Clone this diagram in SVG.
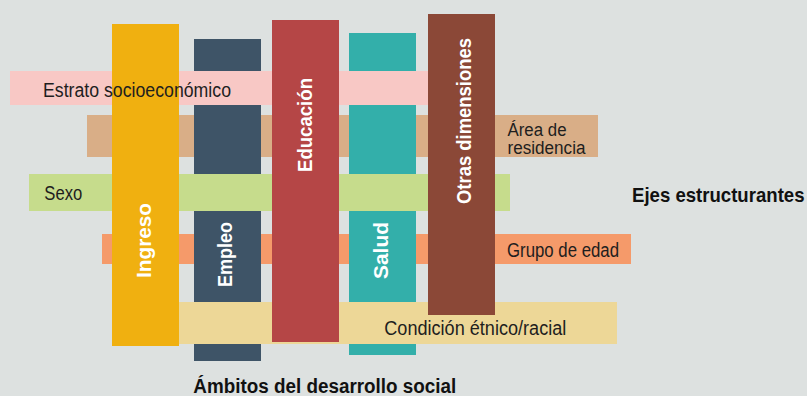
<svg xmlns="http://www.w3.org/2000/svg" width="807" height="396" viewBox="0 0 807 396">
<style>
.lbl{font-family:"Liberation Sans",Arial,sans-serif;font-size:20px;fill:#1e1e1e}
.sm{font-size:18px}
.vlbl{font-family:"Liberation Sans",Arial,sans-serif;font-size:20px;font-weight:bold;fill:#ffffff}
.ttl{font-family:"Liberation Sans",Arial,sans-serif;font-size:20px;font-weight:bold;fill:#111111}
</style>
<rect width="807" height="396" fill="#dde1e0"/>
<g id="connectors"/>
<!-- bottom horizontal bars -->
<g id="area"><rect x="87" y="115" width="511" height="42" fill="#d9ae87"/></g>
<g id="grupo"><rect x="102" y="234" width="529" height="30" fill="#f59a6a"/></g>
<!-- lower vertical bars -->
<g id="empleo"><rect x="194" y="39" width="67" height="322" fill="#3e5467"/></g>
<g id="salud"><rect x="349" y="33" width="67" height="322" fill="#33afaa"/></g>
<!-- upper horizontal bars -->
<g id="estrato"><rect x="10" y="71" width="418" height="34" fill="#f8c8c5"/></g>
<g id="sexo"><rect x="29" y="174" width="481" height="37" fill="#c6dc8c"/></g>
<g id="condicion"><rect x="150" y="302" width="467" height="42" fill="#edd797"/></g>
<!-- upper vertical bars -->
<g id="ingreso"><rect x="112" y="24" width="67" height="322" fill="#f0b010"/></g>
<g id="educacion"><rect x="272" y="20" width="67" height="322" fill="#b54646"/></g>
<g id="otras"><rect x="428" y="14" width="67" height="301" fill="#8b4837"/></g>
<!-- vertical labels -->
<g id="vertical-labels">
<text class="vlbl" transform="translate(151,278) rotate(-90)" textLength="75" lengthAdjust="spacingAndGlyphs">Ingreso</text>
<text class="vlbl" transform="translate(232,287) rotate(-90)" textLength="65" lengthAdjust="spacingAndGlyphs">Empleo</text>
<text class="vlbl" transform="translate(312,172) rotate(-90)" textLength="94" lengthAdjust="spacingAndGlyphs">Educación</text>
<text class="vlbl" transform="translate(388,279) rotate(-90)" textLength="57" lengthAdjust="spacingAndGlyphs">Salud</text>
<text class="vlbl" transform="translate(471,204) rotate(-90)" textLength="166" lengthAdjust="spacingAndGlyphs">Otras dimensiones</text>
</g>
<!-- horizontal labels -->
<g id="horizontal-labels">
<text class="lbl" x="43" y="97" textLength="188" lengthAdjust="spacingAndGlyphs">Estrato socioeconómico</text>
<text class="lbl sm" x="507.5" y="136" textLength="59" lengthAdjust="spacingAndGlyphs">Área de</text>
<text class="lbl sm" x="507.5" y="153.5" textLength="78" lengthAdjust="spacingAndGlyphs">residencia</text>
<text class="lbl" x="44.3" y="200.3" textLength="38" lengthAdjust="spacingAndGlyphs">Sexo</text>
<text class="lbl" x="507" y="256.7" textLength="112" lengthAdjust="spacingAndGlyphs">Grupo de edad</text>
<text class="lbl" x="384.3" y="335" textLength="182" lengthAdjust="spacingAndGlyphs">Condición étnico/racial</text>
</g>
<g id="titles">
<text class="ttl" transform="translate(632,202) scale(0.93,1)">Ejes estructurantes</text>
<text class="ttl" x="193.3" y="393" textLength="263" lengthAdjust="spacingAndGlyphs">Ámbitos del desarrollo social</text>
</g>
</svg>
